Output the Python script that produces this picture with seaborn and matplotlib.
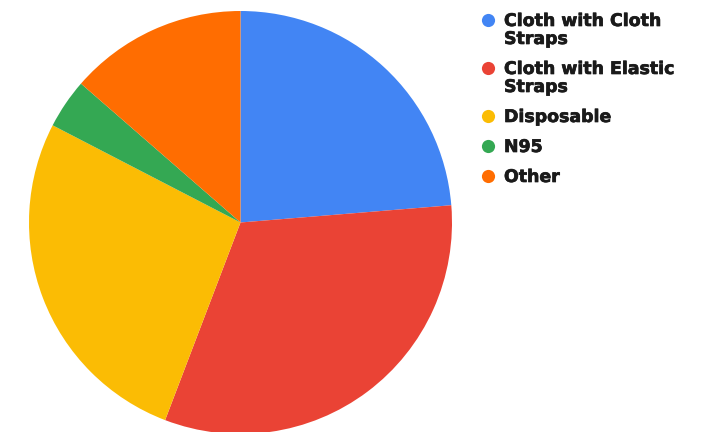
import matplotlib
matplotlib.use("Agg")
import matplotlib.pyplot as plt
import matplotlib.patheffects as pe
import seaborn as sns

# mask types and share of responses
labels = ["Cloth with Cloth\nStraps", "Cloth with Elastic\nStraps", "Disposable", "N95", "Other"]
shares = [23.7, 32.1, 26.8, 3.8, 13.6]
colors = ["#4285F4", "#EA4335", "#FBBC04", "#34A853", "#FF6D01"]

sns.set_theme(style="white")
plt.rcParams["font.family"] = ["DejaVu Sans"]

W, H = 709, 432
fig = plt.figure(figsize=(W / 100, H / 100), dpi=100)

# pie: centre (240.5, 222.5) px, radius 211.5 px
cx, cy, r = 240.5, 222.5, 211.5
ax = fig.add_axes([(cx - r) / W, (H - cy - r) / H, 2 * r / W, 2 * r / H])
ax.pie(shares, colors=colors, startangle=90, counterclock=False,
       wedgeprops=dict(linewidth=0), radius=1)
ax.set_xlim(-1, 1)
ax.set_ylim(-1, 1)
ax.set_aspect("equal")
ax.axis("off")
for p in ax.patches:
    p.set_clip_on(False)

# legend in pixel space so the dot sits on the first line
lg = fig.add_axes([0, 0, 1, 1], zorder=3)
lg.set_xlim(0, W)
lg.set_ylim(H, 0)
lg.axis("off")
lx_dot, lx_txt = 488, 504
y = 20
heavy = [pe.withStroke(linewidth=0.5, foreground="#1a1a1a")]
for lab, col in zip(labels, colors):
    lg.scatter([lx_dot], [y], s=90, color=col, linewidths=0)
    for i, line in enumerate(lab.split("\n")):
        lg.text(lx_txt, y + 6 + 18 * i, line, fontsize=12.5, fontweight="bold",
                color="#1a1a1a", va="baseline", ha="left", path_effects=heavy)
    y += 30 + 18 * lab.count("\n")

fig.savefig("out.png", dpi=100)
